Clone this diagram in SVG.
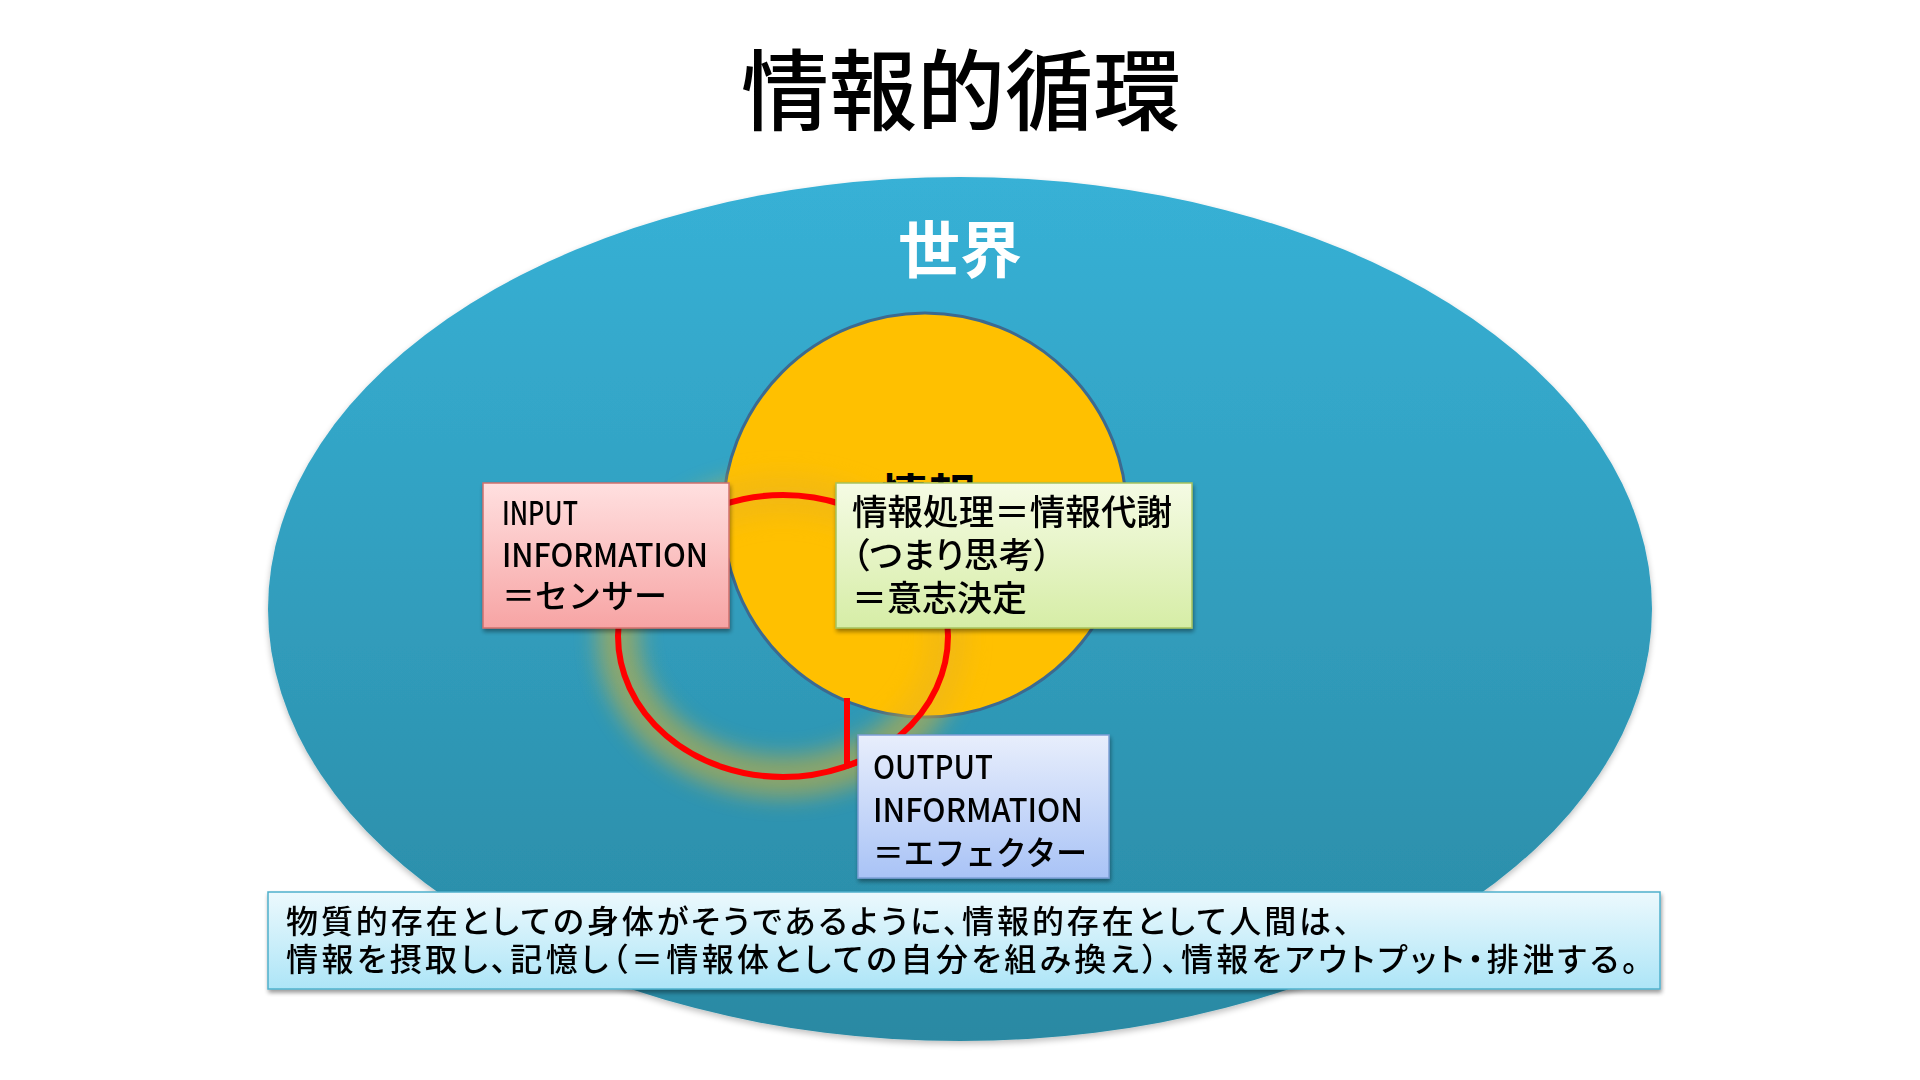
<svg xmlns="http://www.w3.org/2000/svg" width="1920" height="1080" viewBox="0 0 1920 1080">
  <style>
    .jp { font-family: "Noto Sans CJK JP", "Noto Sans", sans-serif; fill: #000; }
    .box-text { font-size: 33px; font-weight: 500; }
    .red { fill: none; stroke: #ff0000; stroke-width: 6; }
  </style>
  <defs>
    <linearGradient id="gWorld" x1="0" y1="0" x2="0" y2="1">
      <stop offset="0" stop-color="#37b1d6"/>
      <stop offset="1" stop-color="#2a89a3"/>
    </linearGradient>
    <linearGradient id="gPink" x1="0" y1="0" x2="0" y2="1">
      <stop offset="0" stop-color="#ffe0e0"/>
      <stop offset="1" stop-color="#f7a4a4"/>
    </linearGradient>
    <linearGradient id="gGreen" x1="0" y1="0" x2="0" y2="1">
      <stop offset="0" stop-color="#f5fbe4"/>
      <stop offset="1" stop-color="#d6eda6"/>
    </linearGradient>
    <linearGradient id="gBlue" x1="0" y1="0" x2="0" y2="1">
      <stop offset="0" stop-color="#e8eefc"/>
      <stop offset="1" stop-color="#a9c3f6"/>
    </linearGradient>
    <linearGradient id="gCyan" x1="0" y1="0" x2="0" y2="1">
      <stop offset="0" stop-color="#ecf9fd"/>
      <stop offset="1" stop-color="#ade5f7"/>
    </linearGradient>
    <filter id="shadow" x="-10%" y="-10%" width="120%" height="130%">
      <feGaussianBlur in="SourceAlpha" stdDeviation="2"/>
      <feOffset dx="1" dy="3"/>
      <feComponentTransfer><feFuncA type="linear" slope="0.4"/></feComponentTransfer>
      <feMerge><feMergeNode/><feMergeNode in="SourceGraphic"/></feMerge>
    </filter>
    <filter id="worldShadow" x="-5%" y="-5%" width="110%" height="115%">
      <feGaussianBlur in="SourceAlpha" stdDeviation="3"/>
      <feOffset dx="0" dy="3"/>
      <feComponentTransfer><feFuncA type="linear" slope="0.25"/></feComponentTransfer>
      <feMerge><feMergeNode/><feMergeNode in="SourceGraphic"/></feMerge>
    </filter>
    <filter id="glow" x="-30%" y="-30%" width="160%" height="160%">
      <feGaussianBlur stdDeviation="11"/>
    </filter>
  </defs>

  <rect width="1920" height="1080" fill="#ffffff"/>

  <text class="jp" x="961" y="123" font-size="88" font-weight="500" text-anchor="middle">情報的循環</text>

  <g id="world">
    <ellipse cx="960" cy="609" rx="692" ry="432" fill="url(#gWorld)" filter="url(#worldShadow)"/>
    <text class="jp" x="960" y="273" font-size="62" font-weight="700" style="fill:#ffffff" text-anchor="middle">世界</text>
  </g>

  <g id="self">
    <circle cx="925" cy="515" r="202" fill="#ffc000" stroke="#3c6a90" stroke-width="3"/>
    <text class="jp" x="928" y="514" font-size="48" font-weight="700" text-anchor="middle">情報</text>
  </g>

  <g id="connectors">
    <ellipse cx="783" cy="636" rx="165" ry="141" fill="none" stroke="#e8b420" stroke-width="42" opacity="0.5" filter="url(#glow)"/>
    <ellipse class="red" cx="783" cy="636" rx="165" ry="141"/>
    <line class="red" x1="847" y1="698" x2="847" y2="768"/>
    <line class="red" x1="847" y1="766" x2="858" y2="762" stroke-width="8"/>
  </g>

  <g id="input" filter="url(#shadow)">
    <rect x="483" y="483" width="246" height="145" fill="url(#gPink)" stroke="#d0706c" stroke-width="1.5"/>
    <text class="jp box-text" x="502" y="525" textLength="76" lengthAdjust="spacingAndGlyphs">INPUT</text>
    <text class="jp box-text" x="502" y="567" textLength="206" lengthAdjust="spacingAndGlyphs">INFORMATION</text>
    <text class="jp box-text" x="502" y="608">＝センサー</text>
  </g>

  <g id="process" filter="url(#shadow)">
    <rect x="836" y="483" width="356" height="145" fill="url(#gGreen)" stroke="#a5c25e" stroke-width="1.5"/>
    <text class="jp" x="852" y="525" font-size="35" font-weight="500" textLength="320" lengthAdjust="spacingAndGlyphs">情報処理＝情報代謝</text>
    <text class="jp" x="852" y="568" font-size="35" font-weight="500" style="font-feature-settings:'palt'">（つまり思考）</text>
    <text class="jp" x="852" y="611" font-size="35" font-weight="500">＝意志決定</text>
  </g>

  <g id="output" filter="url(#shadow)">
    <rect x="858" y="735" width="251" height="143" fill="url(#gBlue)" stroke="#7e9fd6" stroke-width="1.5"/>
    <text class="jp box-text" x="873" y="779" textLength="120" lengthAdjust="spacingAndGlyphs">OUTPUT</text>
    <text class="jp box-text" x="873" y="822" textLength="210" lengthAdjust="spacingAndGlyphs">INFORMATION</text>
    <text class="jp box-text" x="873" y="865" textLength="214" lengthAdjust="spacingAndGlyphs">＝エフェクター</text>
  </g>

  <g id="summary" filter="url(#shadow)">
    <rect x="268" y="892" width="1392" height="97" fill="url(#gCyan)" stroke="#4fb0cc" stroke-width="1.5"/>
    <text class="jp" x="286" y="933" font-size="32" font-weight="500" style="font-feature-settings:'palt'" textLength="1064" lengthAdjust="spacing">物質的存在としての身体がそうであるように、情報的存在として人間は、</text>
    <text class="jp" x="286" y="971" font-size="32" font-weight="500" style="font-feature-settings:'palt'" textLength="1352" lengthAdjust="spacing">情報を摂取し、記憶し（＝情報体としての自分を組み換え）、情報をアウトプット・排泄する。</text>
  </g>
</svg>
